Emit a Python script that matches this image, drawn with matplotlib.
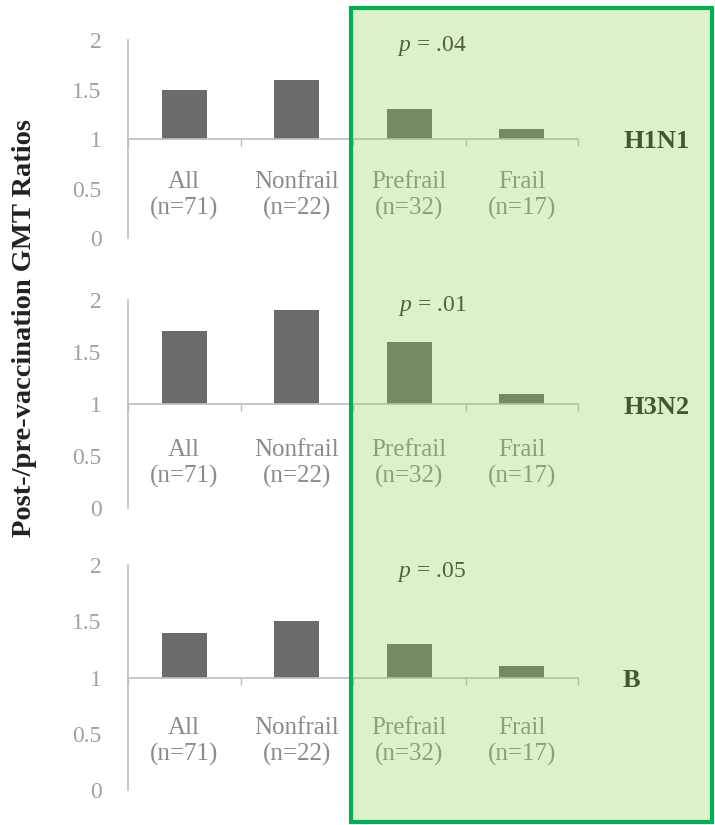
import matplotlib
matplotlib.use("Agg")
import matplotlib.pyplot as plt
from matplotlib.patches import Rectangle

plt.rcParams['font.family'] = ['Liberation Serif', 'DejaVu Serif']
plt.rcParams['mathtext.fontset'] = 'custom'
plt.rcParams['mathtext.it'] = 'Liberation Serif:italic'
plt.rcParams['mathtext.rm'] = 'Liberation Serif'

# data
groups = ['All', 'Nonfrail', 'Prefrail', 'Frail']
group_n = [71, 22, 32, 17]
strains = ['H1N1', 'H3N2', 'B']
h1n1 = [1.5, 1.6, 1.3, 1.1]
h3n2 = [1.7, 1.9, 1.6, 1.1]
b_strain = [1.4, 1.5, 1.3, 1.1]
p_values = ['.04', '.01', '.05']
yticks = [0, 0.5, 1, 1.5, 2]
ytick_labels = ['0', '0.5', '1', '1.5', '2']

W, H = 715, 825
fig = plt.figure(figsize=(W / 100, H / 100), dpi=100)

# panel boxes in pixels: left, top(y=2), bottom(y=0)
panels = [(128, 40, 238), (128, 300, 508), (128, 565, 790)]
x_right = 578

bar_color = '#6b6b6b'
axis_color = '#bdbdbd'
tick_color = '#a0a0a0'
label_color = '#8a8a8a'

for k, (vals, name, pv) in enumerate(zip([h1n1, h3n2, b_strain], strains, p_values)):
    left, top, bottom = panels[k]
    ax = fig.add_axes([left / W, 1 - bottom / H, (x_right - left) / W, (bottom - top) / H])
    ax.set_xlim(0, 4)
    ax.set_ylim(0, 2)
    xs = [i + 0.5 for i in range(len(groups))]
    ax.bar(xs, [v - 1 for v in vals], bottom=1, width=0.4, color=bar_color, zorder=2)

    for s in ['top', 'right']:
        ax.spines[s].set_visible(False)
    ax.spines['left'].set_color(axis_color)
    ax.spines['left'].set_linewidth(1.2)
    ax.spines['bottom'].set_position(('data', 1))
    ax.spines['bottom'].set_color(axis_color)
    ax.spines['bottom'].set_linewidth(1.2)

    ax.set_xticks([0, 1, 2, 3, 4])
    ax.set_xticklabels([])
    ax.tick_params(axis='x', direction='out', length=5, color=axis_color, width=1)
    ax.set_yticks(yticks)
    ax.set_yticklabels(ytick_labels)
    ax.tick_params(axis='y', length=0, pad=19, labelsize=17, labelcolor=tick_color)

    for x, g, n in zip(xs, groups, group_n):
        ax.text(x, 0.43, '%s\n(n=%d)' % (g, n), ha='center', va='center',
                fontsize=18, color=label_color, linespacing=1.25)

    ax.text(2.7, 1.94, r'$p$ = .%s' % pv[1:], ha='center', va='center',
            fontsize=17, color='#333333', clip_on=False)
    ax.text(4.4, 0.97, name, ha='left', va='center', fontsize=19,
            fontweight='bold', color='#222222', clip_on=False)

fig.text(25 / W, 1 - 328 / H, 'Post-/pre-vaccination GMT Ratios', rotation=90,
         ha='center', va='center', fontsize=20.5, fontweight='bold', color='#222222')

# highlighted region over the frail groups
box = (351, 8, 712, 822)
fig.patches.append(Rectangle((box[0] / W, 1 - box[3] / H), (box[2] - box[0]) / W,
                             (box[3] - box[1]) / H, transform=fig.transFigure,
                             facecolor='#92D050', alpha=0.3, edgecolor='none', zorder=10))
fig.patches.append(Rectangle((box[0] / W, 1 - box[3] / H), (box[2] - box[0]) / W,
                             (box[3] - box[1]) / H, transform=fig.transFigure,
                             facecolor='none', edgecolor='#00B050', linewidth=3, zorder=11))

fig.savefig('out.png', dpi=100)
